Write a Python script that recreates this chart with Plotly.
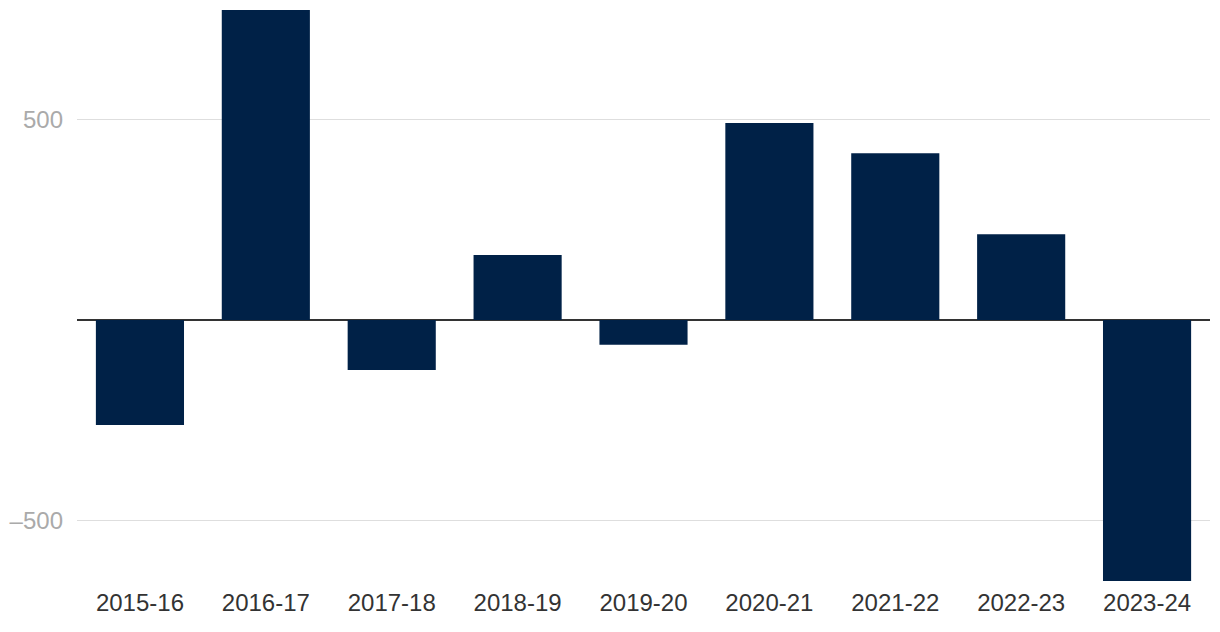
import plotly.graph_objects as go

years = ["2015-16", "2016-17", "2017-18", "2018-19", "2019-20",
         "2020-21", "2021-22", "2022-23", "2023-24"]
values = [-262, 773, -125, 162, -62, 491, 416, 214, -651]
y_tickvals = [-500, 500]
y_ticktext = ["\u2013500", "500"]

fig = go.Figure(go.Bar(x=years, y=values, marker=dict(color="#002147", line=dict(width=0)),
                       hoverinfo="x+y"))

fig.update_layout(
    width=1220, height=632,
    margin=dict(l=69, r=18, t=2, b=59),
    paper_bgcolor="white", plot_bgcolor="white",
    bargap=0.3, showlegend=False,
    font=dict(family="Liberation Sans, Arial, sans-serif"),
)
fig.update_xaxes(showgrid=False, showline=False, ticks="", ticklabelstandoff=5,
                 tickfont=dict(size=24, color="#333333"))
fig.update_yaxes(range=[-651, 773], tickvals=y_tickvals, ticktext=y_ticktext,
                 showgrid=True, gridcolor="#dedede", gridwidth=1,
                 zeroline=True, zerolinecolor="#333333", zerolinewidth=1.5,
                 ticks="", ticklabelstandoff=13,
                 tickfont=dict(size=24, color="#aaaaaa"))

fig.write_html("out.html")
